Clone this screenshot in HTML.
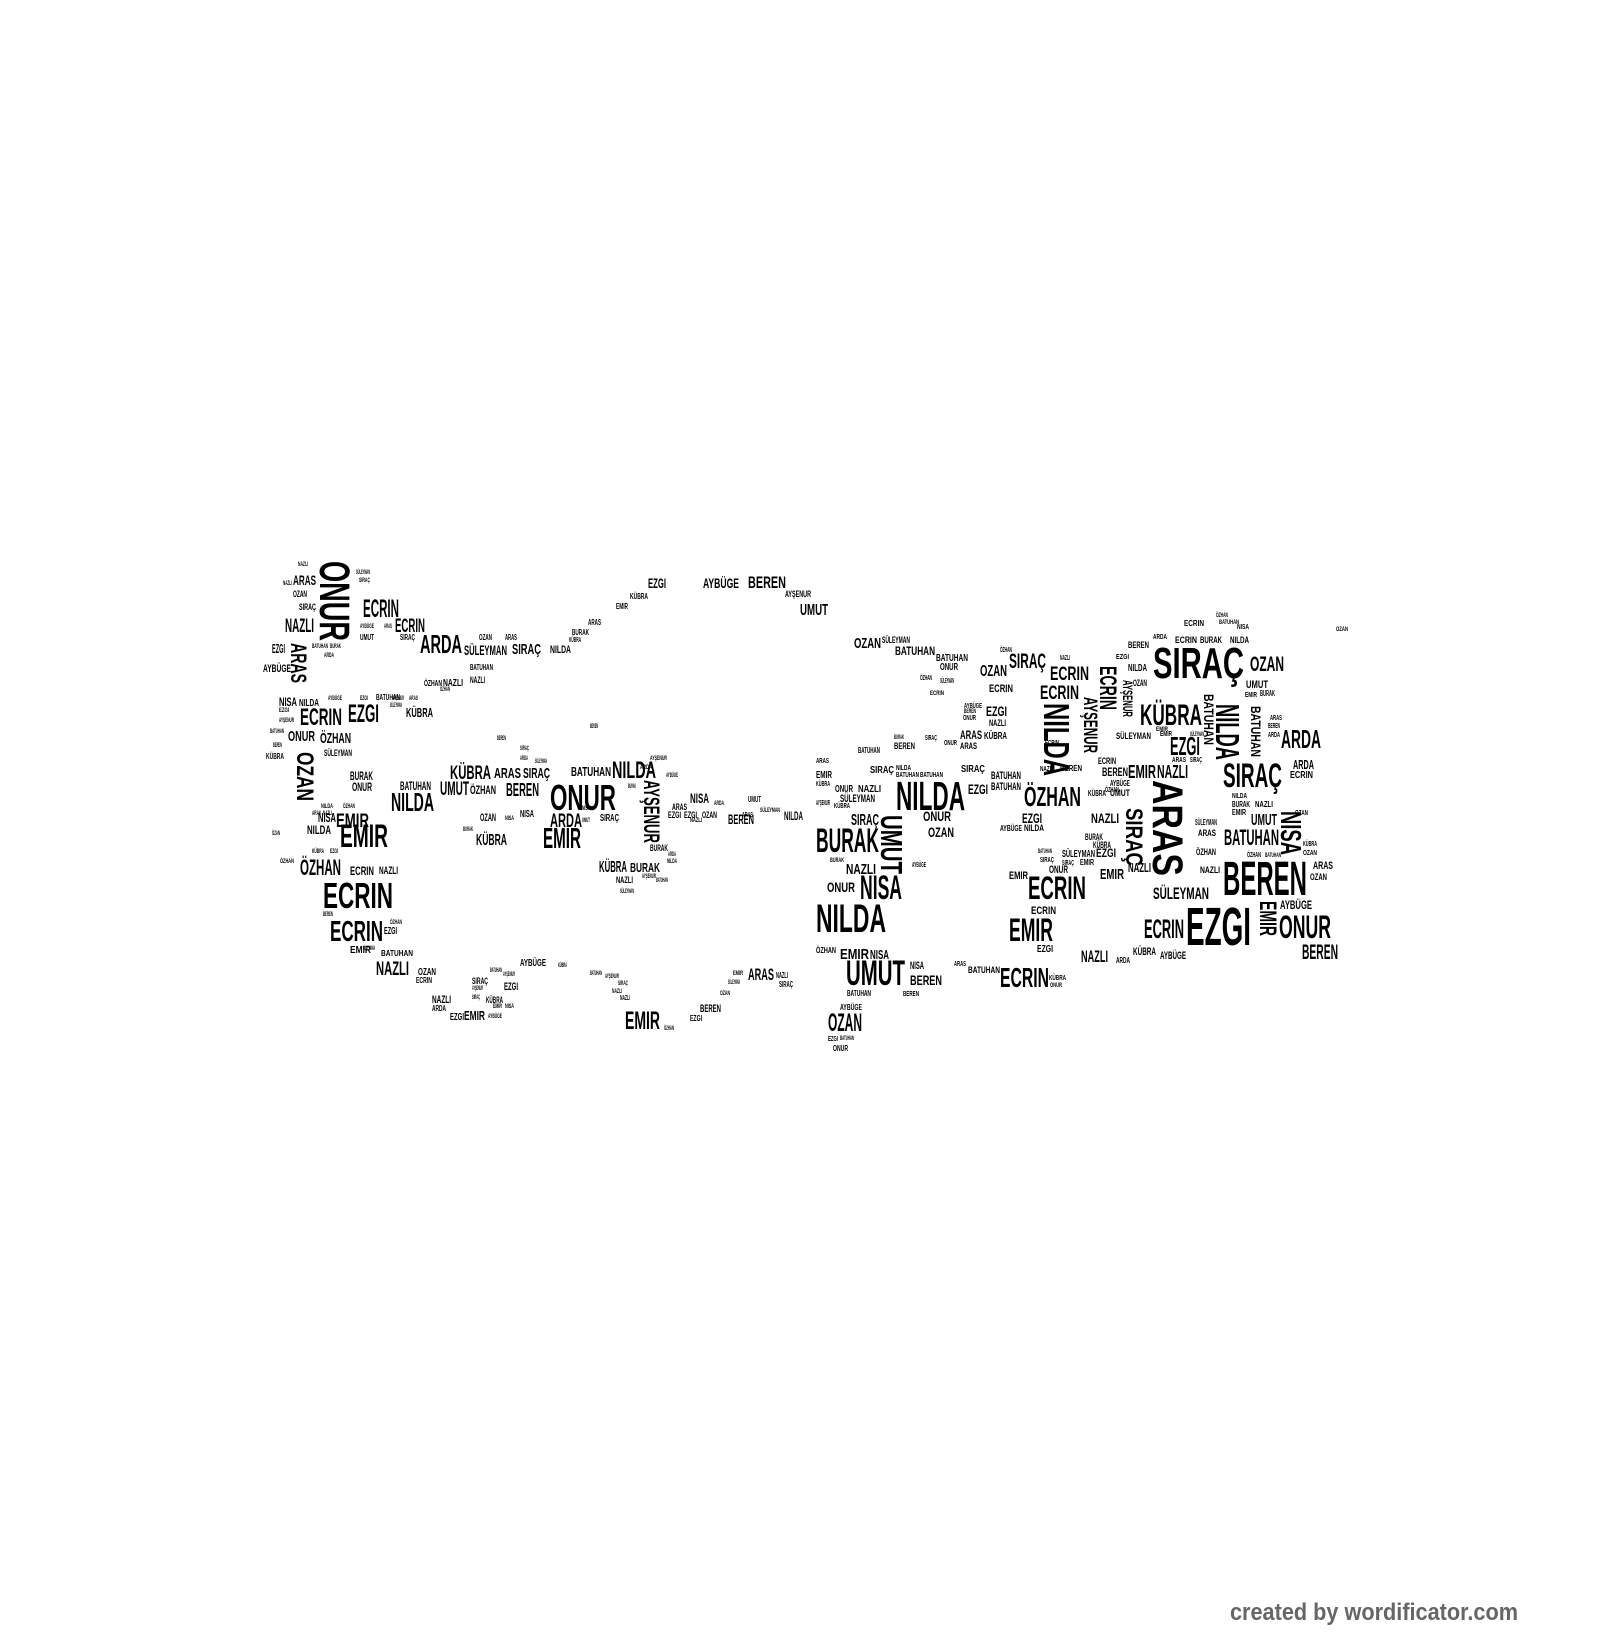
<!DOCTYPE html>
<html><head><meta charset="utf-8"><style>
html,body{margin:0;padding:0;background:#fff;}
svg{display:block;}
text{font-family:"Liberation Sans",sans-serif;fill:#000;font-weight:bold;}
.c{font-family:"Liberation Sans",sans-serif;font-weight:bold;fill:#666;}
</style></head><body>
<svg width="1600" height="1640" viewBox="0 0 1600 1640" xmlns="http://www.w3.org/2000/svg">
<g>
<text x="293" y="585" font-size="14" textLength="23" lengthAdjust="spacingAndGlyphs">ARAS</text>
<text x="293" y="597" font-size="9" textLength="14" lengthAdjust="spacingAndGlyphs">OZAN</text>
<text x="299" y="610" font-size="9" textLength="17" lengthAdjust="spacingAndGlyphs">SIRAÇ</text>
<text x="363" y="617" font-size="25" textLength="36" lengthAdjust="spacingAndGlyphs">ECRIN</text>
<text x="285" y="632" font-size="19" textLength="29" lengthAdjust="spacingAndGlyphs">NAZLI</text>
<text x="395" y="632" font-size="19" textLength="30" lengthAdjust="spacingAndGlyphs">ECRIN</text>
<text x="360" y="640" font-size="8" textLength="14" lengthAdjust="spacingAndGlyphs">UMUT</text>
<text x="400" y="640" font-size="8" textLength="15" lengthAdjust="spacingAndGlyphs">SIRAÇ</text>
<text x="420" y="653" font-size="26" textLength="42" lengthAdjust="spacingAndGlyphs">ARDA</text>
<text x="464" y="655" font-size="14" textLength="43" lengthAdjust="spacingAndGlyphs">SÜLEYMAN</text>
<text x="479" y="640" font-size="8" textLength="13" lengthAdjust="spacingAndGlyphs">OZAN</text>
<text x="505" y="640" font-size="8" textLength="12" lengthAdjust="spacingAndGlyphs">ARAS</text>
<text x="512" y="654" font-size="15" textLength="29" lengthAdjust="spacingAndGlyphs">SIRAÇ</text>
<text x="550" y="653" font-size="11" textLength="21" lengthAdjust="spacingAndGlyphs">NILDA</text>
<text x="272" y="653" font-size="13" textLength="13" lengthAdjust="spacingAndGlyphs">EZGI</text>
<text x="263" y="672" font-size="11" textLength="28" lengthAdjust="spacingAndGlyphs">AYBÜGE</text>
<text x="470" y="670" font-size="8" textLength="23" lengthAdjust="spacingAndGlyphs">BATUHAN</text>
<text x="424" y="686" font-size="8" textLength="18" lengthAdjust="spacingAndGlyphs">ÖZHAN</text>
<text x="443" y="686" font-size="10" textLength="20" lengthAdjust="spacingAndGlyphs">NAZLI</text>
<text x="470" y="683" font-size="9" textLength="15" lengthAdjust="spacingAndGlyphs">NAZLI</text>
<text x="648" y="588" font-size="14" textLength="18" lengthAdjust="spacingAndGlyphs">EZGI</text>
<text x="703" y="588" font-size="14" textLength="36" lengthAdjust="spacingAndGlyphs">AYBÜGE</text>
<text x="748" y="588" font-size="17" textLength="38" lengthAdjust="spacingAndGlyphs">BEREN</text>
<text x="630" y="599" font-size="8" textLength="18" lengthAdjust="spacingAndGlyphs">KÜBRA</text>
<text x="616" y="609" font-size="8" textLength="12" lengthAdjust="spacingAndGlyphs">EMIR</text>
<text x="588" y="625" font-size="8" textLength="13" lengthAdjust="spacingAndGlyphs">ARAS</text>
<text x="572" y="635" font-size="8" textLength="17" lengthAdjust="spacingAndGlyphs">BURAK</text>
<text x="569" y="642" font-size="7" textLength="12" lengthAdjust="spacingAndGlyphs">KÜBRA</text>
<text x="785" y="597" font-size="9" textLength="26" lengthAdjust="spacingAndGlyphs">AYŞENUR</text>
<text x="800" y="615" font-size="16" textLength="28" lengthAdjust="spacingAndGlyphs">UMUT</text>
<text x="279" y="706" font-size="12" textLength="18" lengthAdjust="spacingAndGlyphs">NISA</text>
<text x="299" y="706" font-size="10" textLength="20" lengthAdjust="spacingAndGlyphs">NILDA</text>
<text x="300" y="725" font-size="24" textLength="42" lengthAdjust="spacingAndGlyphs">ECRIN</text>
<text x="348" y="722" font-size="25" textLength="31" lengthAdjust="spacingAndGlyphs">EZGI</text>
<text x="406" y="717" font-size="13" textLength="27" lengthAdjust="spacingAndGlyphs">KÜBRA</text>
<text x="376" y="700" font-size="8" textLength="24" lengthAdjust="spacingAndGlyphs">BATUHAN</text>
<text x="288" y="741" font-size="15" textLength="27" lengthAdjust="spacingAndGlyphs">ONUR</text>
<text x="320" y="743" font-size="15" textLength="31" lengthAdjust="spacingAndGlyphs">ÖZHAN</text>
<text x="324" y="756" font-size="9" textLength="28" lengthAdjust="spacingAndGlyphs">SÜLEYMAN</text>
<text x="266" y="759" font-size="8" textLength="18" lengthAdjust="spacingAndGlyphs">KÜBRA</text>
<text x="350" y="780" font-size="12" textLength="23" lengthAdjust="spacingAndGlyphs">BURAK</text>
<text x="352" y="791" font-size="12" textLength="20" lengthAdjust="spacingAndGlyphs">ONUR</text>
<text x="391" y="811" font-size="26" textLength="43" lengthAdjust="spacingAndGlyphs">NILDA</text>
<text x="400" y="790" font-size="12" textLength="31" lengthAdjust="spacingAndGlyphs">BATUHAN</text>
<text x="450" y="779" font-size="19" textLength="41" lengthAdjust="spacingAndGlyphs">KÜBRA</text>
<text x="494" y="778" font-size="15" textLength="27" lengthAdjust="spacingAndGlyphs">ARAS</text>
<text x="523" y="778" font-size="15" textLength="27" lengthAdjust="spacingAndGlyphs">SIRAÇ</text>
<text x="571" y="776" font-size="13" textLength="40" lengthAdjust="spacingAndGlyphs">BATUHAN</text>
<text x="612" y="778" font-size="24" textLength="44" lengthAdjust="spacingAndGlyphs">NILDA</text>
<text x="440" y="795" font-size="19" textLength="29" lengthAdjust="spacingAndGlyphs">UMUT</text>
<text x="470" y="794" font-size="12" textLength="26" lengthAdjust="spacingAndGlyphs">ÖZHAN</text>
<text x="506" y="796" font-size="18" textLength="33" lengthAdjust="spacingAndGlyphs">BEREN</text>
<text x="550" y="810" font-size="36" textLength="66" lengthAdjust="spacingAndGlyphs">ONUR</text>
<text x="690" y="803" font-size="14" textLength="19" lengthAdjust="spacingAndGlyphs">NISA</text>
<text x="672" y="810" font-size="9" textLength="15" lengthAdjust="spacingAndGlyphs">ARAS</text>
<text x="668" y="818" font-size="9" textLength="13" lengthAdjust="spacingAndGlyphs">EZGI</text>
<text x="684" y="818" font-size="9" textLength="13" lengthAdjust="spacingAndGlyphs">EZGI</text>
<text x="702" y="818" font-size="9" textLength="15" lengthAdjust="spacingAndGlyphs">OZAN</text>
<text x="550" y="827" font-size="19" textLength="32" lengthAdjust="spacingAndGlyphs">ARDA</text>
<text x="600" y="821" font-size="10" textLength="19" lengthAdjust="spacingAndGlyphs">SIRAÇ</text>
<text x="543" y="848" font-size="29" textLength="38" lengthAdjust="spacingAndGlyphs">EMIR</text>
<text x="476" y="845" font-size="16" textLength="31" lengthAdjust="spacingAndGlyphs">KÜBRA</text>
<text x="480" y="821" font-size="11" textLength="16" lengthAdjust="spacingAndGlyphs">OZAN</text>
<text x="520" y="817" font-size="10" textLength="14" lengthAdjust="spacingAndGlyphs">NISA</text>
<text x="336" y="827" font-size="19" textLength="33" lengthAdjust="spacingAndGlyphs">EMIR</text>
<text x="318" y="822" font-size="13" textLength="18" lengthAdjust="spacingAndGlyphs">NISA</text>
<text x="307" y="834" font-size="12" textLength="24" lengthAdjust="spacingAndGlyphs">NILDA</text>
<text x="340" y="847" font-size="32" textLength="48" lengthAdjust="spacingAndGlyphs">EMIR</text>
<text x="300" y="875" font-size="22" textLength="41" lengthAdjust="spacingAndGlyphs">ÖZHAN</text>
<text x="350" y="875" font-size="12" textLength="24" lengthAdjust="spacingAndGlyphs">ECRIN</text>
<text x="379" y="874" font-size="11" textLength="19" lengthAdjust="spacingAndGlyphs">NAZLI</text>
<text x="323" y="908" font-size="36" textLength="70" lengthAdjust="spacingAndGlyphs">ECRIN</text>
<text x="330" y="941" font-size="29" textLength="53" lengthAdjust="spacingAndGlyphs">ECRIN</text>
<text x="384" y="934" font-size="10" textLength="13" lengthAdjust="spacingAndGlyphs">EZGI</text>
<text x="350" y="953" font-size="10" textLength="21" lengthAdjust="spacingAndGlyphs">EMIR</text>
<text x="381" y="956" font-size="8" textLength="32" lengthAdjust="spacingAndGlyphs">BATUHAN</text>
<text x="376" y="975" font-size="19" textLength="33" lengthAdjust="spacingAndGlyphs">NAZLI</text>
<text x="418" y="975" font-size="10" textLength="18" lengthAdjust="spacingAndGlyphs">OZAN</text>
<text x="416" y="983" font-size="8" textLength="16" lengthAdjust="spacingAndGlyphs">ECRIN</text>
<text x="520" y="966" font-size="10" textLength="26" lengthAdjust="spacingAndGlyphs">AYBÜGE</text>
<text x="472" y="984" font-size="9" textLength="16" lengthAdjust="spacingAndGlyphs">SIRAÇ</text>
<text x="504" y="990" font-size="11" textLength="14" lengthAdjust="spacingAndGlyphs">EZGI</text>
<text x="432" y="1003" font-size="11" textLength="19" lengthAdjust="spacingAndGlyphs">NAZLI</text>
<text x="486" y="1003" font-size="9" textLength="17" lengthAdjust="spacingAndGlyphs">KÜBRA</text>
<text x="432" y="1011" font-size="8" textLength="14" lengthAdjust="spacingAndGlyphs">ARDA</text>
<text x="450" y="1020" font-size="10" textLength="14" lengthAdjust="spacingAndGlyphs">EZGI</text>
<text x="464" y="1020" font-size="13" textLength="21" lengthAdjust="spacingAndGlyphs">EMIR</text>
<text x="625" y="1029" font-size="25" textLength="35" lengthAdjust="spacingAndGlyphs">EMIR</text>
<text x="700" y="1012" font-size="11" textLength="21" lengthAdjust="spacingAndGlyphs">BEREN</text>
<text x="690" y="1021" font-size="8" textLength="12" lengthAdjust="spacingAndGlyphs">EZGI</text>
<text x="748" y="980" font-size="17" textLength="26" lengthAdjust="spacingAndGlyphs">ARAS</text>
<text x="776" y="978" font-size="8" textLength="12" lengthAdjust="spacingAndGlyphs">NAZLI</text>
<text x="779" y="987" font-size="8" textLength="14" lengthAdjust="spacingAndGlyphs">SIRAÇ</text>
<text x="599" y="872" font-size="16" textLength="28" lengthAdjust="spacingAndGlyphs">KÜBRA</text>
<text x="630" y="872" font-size="13" textLength="30" lengthAdjust="spacingAndGlyphs">BURAK</text>
<text x="616" y="883" font-size="9" textLength="17" lengthAdjust="spacingAndGlyphs">NAZLI</text>
<text x="650" y="851" font-size="9" textLength="18" lengthAdjust="spacingAndGlyphs">BURAK</text>
<text x="728" y="824" font-size="14" textLength="26" lengthAdjust="spacingAndGlyphs">BEREN</text>
<text x="784" y="820" font-size="12" textLength="19" lengthAdjust="spacingAndGlyphs">NILDA</text>
<text x="748" y="802" font-size="8" textLength="13" lengthAdjust="spacingAndGlyphs">UMUT</text>
<text x="742" y="817" font-size="7" textLength="11" lengthAdjust="spacingAndGlyphs">ARAS</text>
<text x="760" y="812" font-size="6" textLength="20" lengthAdjust="spacingAndGlyphs">SÜLEYMAN</text>
<text x="298" y="566" font-size="6" textLength="10" lengthAdjust="spacingAndGlyphs">NAZLI</text>
<text x="283" y="585" font-size="6" textLength="9" lengthAdjust="spacingAndGlyphs">NAZLI</text>
<text x="356" y="574" font-size="6" textLength="14" lengthAdjust="spacingAndGlyphs">SÜLEYMAN</text>
<text x="359" y="582" font-size="6" textLength="11" lengthAdjust="spacingAndGlyphs">SIRAÇ</text>
<text x="360" y="628" font-size="6" textLength="14" lengthAdjust="spacingAndGlyphs">AYBÜGE</text>
<text x="384" y="628" font-size="6" textLength="8" lengthAdjust="spacingAndGlyphs">ARAS</text>
<text x="312" y="648" font-size="6" textLength="16" lengthAdjust="spacingAndGlyphs">BATUHAN</text>
<text x="330" y="648" font-size="6" textLength="11" lengthAdjust="spacingAndGlyphs">BURAK</text>
<text x="324" y="657" font-size="6" textLength="10" lengthAdjust="spacingAndGlyphs">ARDA</text>
<text x="328" y="700" font-size="6" textLength="14" lengthAdjust="spacingAndGlyphs">AYBÜGE</text>
<text x="360" y="700" font-size="6" textLength="8" lengthAdjust="spacingAndGlyphs">EZGI</text>
<text x="392" y="700" font-size="6" textLength="12" lengthAdjust="spacingAndGlyphs">AYŞENUR</text>
<text x="409" y="700" font-size="6" textLength="9" lengthAdjust="spacingAndGlyphs">ARAS</text>
<text x="390" y="707" font-size="6" textLength="12" lengthAdjust="spacingAndGlyphs">SÜLEYMAN</text>
<text x="440" y="691" font-size="6" textLength="10" lengthAdjust="spacingAndGlyphs">ÖZHAN</text>
<text x="279" y="712" font-size="6" textLength="10" lengthAdjust="spacingAndGlyphs">EZGI</text>
<text x="279" y="722" font-size="6" textLength="15" lengthAdjust="spacingAndGlyphs">AYŞENUR</text>
<text x="270" y="733" font-size="6" textLength="14" lengthAdjust="spacingAndGlyphs">BATUHAN</text>
<text x="273" y="747" font-size="6" textLength="9" lengthAdjust="spacingAndGlyphs">BEREN</text>
<text x="321" y="808" font-size="6" textLength="12" lengthAdjust="spacingAndGlyphs">NILDA</text>
<text x="343" y="808" font-size="6" textLength="12" lengthAdjust="spacingAndGlyphs">ÖZHAN</text>
<text x="312" y="815" font-size="6" textLength="9" lengthAdjust="spacingAndGlyphs">ARAS</text>
<text x="323" y="815" font-size="6" textLength="9" lengthAdjust="spacingAndGlyphs">NAZLI</text>
<text x="272" y="835" font-size="6" textLength="8" lengthAdjust="spacingAndGlyphs">ÖZAN</text>
<text x="312" y="853" font-size="6" textLength="12" lengthAdjust="spacingAndGlyphs">KÜBRA</text>
<text x="330" y="853" font-size="6" textLength="8" lengthAdjust="spacingAndGlyphs">EZGI</text>
<text x="280" y="863" font-size="6" textLength="14" lengthAdjust="spacingAndGlyphs">ÖZHAN</text>
<text x="323" y="916" font-size="6" textLength="10" lengthAdjust="spacingAndGlyphs">BEREN</text>
<text x="390" y="924" font-size="6" textLength="12" lengthAdjust="spacingAndGlyphs">ÖZHAN</text>
<text x="363" y="950" font-size="6" textLength="12" lengthAdjust="spacingAndGlyphs">SÜLEYMAN</text>
<text x="490" y="972" font-size="6" textLength="12" lengthAdjust="spacingAndGlyphs">BATUHAN</text>
<text x="503" y="976" font-size="6" textLength="12" lengthAdjust="spacingAndGlyphs">AYŞENUR</text>
<text x="472" y="990" font-size="6" textLength="11" lengthAdjust="spacingAndGlyphs">AYŞENUR</text>
<text x="472" y="999" font-size="6" textLength="8" lengthAdjust="spacingAndGlyphs">SIRAÇ</text>
<text x="488" y="1018" font-size="6" textLength="14" lengthAdjust="spacingAndGlyphs">AYBÜGE</text>
<text x="505" y="1008" font-size="6" textLength="9" lengthAdjust="spacingAndGlyphs">NISA</text>
<text x="493" y="1008" font-size="6" textLength="9" lengthAdjust="spacingAndGlyphs">EMIR</text>
<text x="590" y="975" font-size="6" textLength="12" lengthAdjust="spacingAndGlyphs">BATUHAN</text>
<text x="605" y="978" font-size="6" textLength="14" lengthAdjust="spacingAndGlyphs">AYŞENUR</text>
<text x="618" y="985" font-size="6" textLength="10" lengthAdjust="spacingAndGlyphs">SIRAÇ</text>
<text x="612" y="993" font-size="6" textLength="10" lengthAdjust="spacingAndGlyphs">NAZLI</text>
<text x="620" y="1000" font-size="7" textLength="10" lengthAdjust="spacingAndGlyphs">NAZLI</text>
<text x="664" y="1030" font-size="6" textLength="10" lengthAdjust="spacingAndGlyphs">ÖZHAN</text>
<text x="558" y="967" font-size="6" textLength="9" lengthAdjust="spacingAndGlyphs">KÜBRA</text>
<text x="733" y="975" font-size="6" textLength="10" lengthAdjust="spacingAndGlyphs">EMIR</text>
<text x="728" y="984" font-size="6" textLength="12" lengthAdjust="spacingAndGlyphs">SÜLEYMAN</text>
<text x="720" y="995" font-size="6" textLength="10" lengthAdjust="spacingAndGlyphs">OZAN</text>
<text x="590" y="728" font-size="6" textLength="8" lengthAdjust="spacingAndGlyphs">BEREN</text>
<text x="497" y="740" font-size="6" textLength="9" lengthAdjust="spacingAndGlyphs">BEREN</text>
<text x="520" y="750" font-size="6" textLength="9" lengthAdjust="spacingAndGlyphs">SIRAÇ</text>
<text x="520" y="760" font-size="6" textLength="8" lengthAdjust="spacingAndGlyphs">ARDA</text>
<text x="535" y="763" font-size="6" textLength="12" lengthAdjust="spacingAndGlyphs">SÜLEYMAN</text>
<text x="640" y="769" font-size="6" textLength="12" lengthAdjust="spacingAndGlyphs">ARDA</text>
<text x="650" y="760" font-size="6" textLength="17" lengthAdjust="spacingAndGlyphs">AYŞENUR</text>
<text x="666" y="777" font-size="6" textLength="12" lengthAdjust="spacingAndGlyphs">AYBÜGE</text>
<text x="628" y="788" font-size="6" textLength="8" lengthAdjust="spacingAndGlyphs">BURAK</text>
<text x="582" y="810" font-size="6" textLength="8" lengthAdjust="spacingAndGlyphs">NISA</text>
<text x="582" y="822" font-size="6" textLength="8" lengthAdjust="spacingAndGlyphs">UMUT</text>
<text x="463" y="831" font-size="6" textLength="10" lengthAdjust="spacingAndGlyphs">BURAK</text>
<text x="505" y="820" font-size="6" textLength="9" lengthAdjust="spacingAndGlyphs">NISA</text>
<text x="642" y="878" font-size="6" textLength="14" lengthAdjust="spacingAndGlyphs">AYŞENUR</text>
<text x="620" y="893" font-size="6" textLength="14" lengthAdjust="spacingAndGlyphs">SÜLEYMAN</text>
<text x="668" y="856" font-size="6" textLength="8" lengthAdjust="spacingAndGlyphs">ARDA</text>
<text x="667" y="863" font-size="6" textLength="10" lengthAdjust="spacingAndGlyphs">NILDA</text>
<text x="656" y="882" font-size="6" textLength="12" lengthAdjust="spacingAndGlyphs">BATUHAN</text>
<text x="690" y="822" font-size="6" textLength="12" lengthAdjust="spacingAndGlyphs">NAZLI</text>
<text x="714" y="805" font-size="6" textLength="10" lengthAdjust="spacingAndGlyphs">ARDA</text>
<text x="854" y="648" font-size="15" textLength="27" lengthAdjust="spacingAndGlyphs">OZAN</text>
<text x="882" y="643" font-size="9" textLength="28" lengthAdjust="spacingAndGlyphs">SÜLEYMAN</text>
<text x="895" y="655" font-size="12" textLength="40" lengthAdjust="spacingAndGlyphs">BATUHAN</text>
<text x="936" y="661" font-size="10" textLength="32" lengthAdjust="spacingAndGlyphs">BATUHAN</text>
<text x="940" y="670" font-size="10" textLength="18" lengthAdjust="spacingAndGlyphs">ONUR</text>
<text x="980" y="676" font-size="16" textLength="27" lengthAdjust="spacingAndGlyphs">OZAN</text>
<text x="1009" y="668" font-size="21" textLength="37" lengthAdjust="spacingAndGlyphs">SIRAÇ</text>
<text x="1050" y="680" font-size="19" textLength="39" lengthAdjust="spacingAndGlyphs">ECRIN</text>
<text x="1040" y="699" font-size="19" textLength="39" lengthAdjust="spacingAndGlyphs">ECRIN</text>
<text x="989" y="692" font-size="11" textLength="24" lengthAdjust="spacingAndGlyphs">ECRIN</text>
<text x="1153" y="678" font-size="44" textLength="91" lengthAdjust="spacingAndGlyphs">SIRAÇ</text>
<text x="1250" y="671" font-size="21" textLength="34" lengthAdjust="spacingAndGlyphs">OZAN</text>
<text x="1246" y="688" font-size="11" textLength="22" lengthAdjust="spacingAndGlyphs">UMUT</text>
<text x="1140" y="725" font-size="30" textLength="62" lengthAdjust="spacingAndGlyphs">KÜBRA</text>
<text x="1170" y="755" font-size="26" textLength="30" lengthAdjust="spacingAndGlyphs">EZGI</text>
<text x="1281" y="748" font-size="26" textLength="40" lengthAdjust="spacingAndGlyphs">ARDA</text>
<text x="1223" y="787" font-size="34" textLength="59" lengthAdjust="spacingAndGlyphs">SIRAÇ</text>
<text x="1293" y="769" font-size="13" textLength="21" lengthAdjust="spacingAndGlyphs">ARDA</text>
<text x="1290" y="778" font-size="10" textLength="23" lengthAdjust="spacingAndGlyphs">ECRIN</text>
<text x="896" y="810" font-size="41" textLength="69" lengthAdjust="spacingAndGlyphs">NILDA</text>
<text x="1024" y="806" font-size="28" textLength="57" lengthAdjust="spacingAndGlyphs">ÖZHAN</text>
<text x="1128" y="778" font-size="18" textLength="28" lengthAdjust="spacingAndGlyphs">EMIR</text>
<text x="1157" y="778" font-size="18" textLength="31" lengthAdjust="spacingAndGlyphs">NAZLI</text>
<text x="1102" y="776" font-size="12" textLength="26" lengthAdjust="spacingAndGlyphs">BEREN</text>
<text x="968" y="794" font-size="14" textLength="20" lengthAdjust="spacingAndGlyphs">EZGI</text>
<text x="991" y="779" font-size="11" textLength="30" lengthAdjust="spacingAndGlyphs">BATUHAN</text>
<text x="991" y="790" font-size="11" textLength="30" lengthAdjust="spacingAndGlyphs">BATUHAN</text>
<text x="1022" y="823" font-size="14" textLength="20" lengthAdjust="spacingAndGlyphs">EZGI</text>
<text x="1091" y="823" font-size="14" textLength="28" lengthAdjust="spacingAndGlyphs">NAZLI</text>
<text x="1251" y="825" font-size="16" textLength="26" lengthAdjust="spacingAndGlyphs">UMUT</text>
<text x="1224" y="845" font-size="22" textLength="55" lengthAdjust="spacingAndGlyphs">BATUHAN</text>
<text x="1223" y="895" font-size="48" textLength="84" lengthAdjust="spacingAndGlyphs">BEREN</text>
<text x="1153" y="899" font-size="17" textLength="56" lengthAdjust="spacingAndGlyphs">SÜLEYMAN</text>
<text x="1186" y="945" font-size="54" textLength="65" lengthAdjust="spacingAndGlyphs">EZGI</text>
<text x="1144" y="938" font-size="27" textLength="40" lengthAdjust="spacingAndGlyphs">ECRIN</text>
<text x="1279" y="938" font-size="32" textLength="52" lengthAdjust="spacingAndGlyphs">ONUR</text>
<text x="1302" y="959" font-size="21" textLength="36" lengthAdjust="spacingAndGlyphs">BEREN</text>
<text x="1280" y="909" font-size="12" textLength="32" lengthAdjust="spacingAndGlyphs">AYBÜGE</text>
<text x="1313" y="869" font-size="11" textLength="20" lengthAdjust="spacingAndGlyphs">ARAS</text>
<text x="1310" y="880" font-size="9" textLength="17" lengthAdjust="spacingAndGlyphs">OZAN</text>
<text x="1303" y="846" font-size="7" textLength="14" lengthAdjust="spacingAndGlyphs">KÜBRA</text>
<text x="1303" y="855" font-size="7" textLength="14" lengthAdjust="spacingAndGlyphs">OZAN</text>
<text x="816" y="852" font-size="34" textLength="63" lengthAdjust="spacingAndGlyphs">BURAK</text>
<text x="923" y="821" font-size="14" textLength="28" lengthAdjust="spacingAndGlyphs">ONUR</text>
<text x="928" y="837" font-size="14" textLength="26" lengthAdjust="spacingAndGlyphs">OZAN</text>
<text x="851" y="825" font-size="16" textLength="28" lengthAdjust="spacingAndGlyphs">SIRAÇ</text>
<text x="846" y="874" font-size="15" textLength="30" lengthAdjust="spacingAndGlyphs">NAZLI</text>
<text x="860" y="899" font-size="34" textLength="42" lengthAdjust="spacingAndGlyphs">NISA</text>
<text x="827" y="892" font-size="14" textLength="28" lengthAdjust="spacingAndGlyphs">ONUR</text>
<text x="816" y="932" font-size="40" textLength="70" lengthAdjust="spacingAndGlyphs">NILDA</text>
<text x="840" y="959" font-size="15" textLength="29" lengthAdjust="spacingAndGlyphs">EMIR</text>
<text x="870" y="959" font-size="13" textLength="19" lengthAdjust="spacingAndGlyphs">NISA</text>
<text x="816" y="953" font-size="8" textLength="20" lengthAdjust="spacingAndGlyphs">ÖZHAN</text>
<text x="846" y="985" font-size="35" textLength="59" lengthAdjust="spacingAndGlyphs">UMUT</text>
<text x="910" y="969" font-size="11" textLength="14" lengthAdjust="spacingAndGlyphs">NISA</text>
<text x="910" y="985" font-size="14" textLength="32" lengthAdjust="spacingAndGlyphs">BEREN</text>
<text x="847" y="996" font-size="8" textLength="24" lengthAdjust="spacingAndGlyphs">BATUHAN</text>
<text x="903" y="996" font-size="7" textLength="16" lengthAdjust="spacingAndGlyphs">BEREN</text>
<text x="840" y="1010" font-size="8" textLength="22" lengthAdjust="spacingAndGlyphs">AYBÜGE</text>
<text x="828" y="1031" font-size="25" textLength="34" lengthAdjust="spacingAndGlyphs">OZAN</text>
<text x="828" y="1041" font-size="7" textLength="10" lengthAdjust="spacingAndGlyphs">EZGI</text>
<text x="840" y="1040" font-size="6" textLength="14" lengthAdjust="spacingAndGlyphs">BATUHAN</text>
<text x="833" y="1051" font-size="8" textLength="15" lengthAdjust="spacingAndGlyphs">ONUR</text>
<text x="1028" y="899" font-size="32" textLength="58" lengthAdjust="spacingAndGlyphs">ECRIN</text>
<text x="1009" y="879" font-size="11" textLength="19" lengthAdjust="spacingAndGlyphs">EMIR</text>
<text x="1049" y="873" font-size="11" textLength="19" lengthAdjust="spacingAndGlyphs">ONUR</text>
<text x="1100" y="879" font-size="15" textLength="24" lengthAdjust="spacingAndGlyphs">EMIR</text>
<text x="1128" y="872" font-size="13" textLength="23" lengthAdjust="spacingAndGlyphs">NAZLI</text>
<text x="1031" y="914" font-size="11" textLength="25" lengthAdjust="spacingAndGlyphs">ECRIN</text>
<text x="1009" y="941" font-size="32" textLength="44" lengthAdjust="spacingAndGlyphs">EMIR</text>
<text x="1037" y="952" font-size="10" textLength="16" lengthAdjust="spacingAndGlyphs">EZGI</text>
<text x="1081" y="962" font-size="17" textLength="27" lengthAdjust="spacingAndGlyphs">NAZLI</text>
<text x="1116" y="963" font-size="8" textLength="14" lengthAdjust="spacingAndGlyphs">ARDA</text>
<text x="1133" y="955" font-size="11" textLength="23" lengthAdjust="spacingAndGlyphs">KÜBRA</text>
<text x="1160" y="959" font-size="11" textLength="26" lengthAdjust="spacingAndGlyphs">AYBÜGE</text>
<text x="1000" y="987" font-size="28" textLength="49" lengthAdjust="spacingAndGlyphs">ECRIN</text>
<text x="968" y="973" font-size="9" textLength="32" lengthAdjust="spacingAndGlyphs">BATUHAN</text>
<text x="954" y="966" font-size="7" textLength="12" lengthAdjust="spacingAndGlyphs">ARAS</text>
<text x="1049" y="980" font-size="7" textLength="17" lengthAdjust="spacingAndGlyphs">KÜBRA</text>
<text x="1050" y="987" font-size="6" textLength="12" lengthAdjust="spacingAndGlyphs">ONUR</text>
<text x="1196" y="855" font-size="9" textLength="20" lengthAdjust="spacingAndGlyphs">ÖZHAN</text>
<text x="1200" y="873" font-size="9" textLength="20" lengthAdjust="spacingAndGlyphs">NAZLI</text>
<text x="1336" y="631" font-size="6" textLength="12" lengthAdjust="spacingAndGlyphs">OZAN</text>
<text x="1184" y="626" font-size="8" textLength="20" lengthAdjust="spacingAndGlyphs">ECRIN</text>
<text x="1216" y="617" font-size="6" textLength="12" lengthAdjust="spacingAndGlyphs">ÖZHAN</text>
<text x="1219" y="624" font-size="6" textLength="20" lengthAdjust="spacingAndGlyphs">BATUHAN</text>
<text x="1237" y="629" font-size="7" textLength="12" lengthAdjust="spacingAndGlyphs">NISA</text>
<text x="1153" y="639" font-size="7" textLength="14" lengthAdjust="spacingAndGlyphs">ARDA</text>
<text x="1175" y="643" font-size="9" textLength="22" lengthAdjust="spacingAndGlyphs">ECRIN</text>
<text x="1200" y="643" font-size="9" textLength="22" lengthAdjust="spacingAndGlyphs">BURAK</text>
<text x="1230" y="643" font-size="9" textLength="19" lengthAdjust="spacingAndGlyphs">NILDA</text>
<text x="1128" y="648" font-size="9" textLength="21" lengthAdjust="spacingAndGlyphs">BEREN</text>
<text x="1128" y="671" font-size="10" textLength="19" lengthAdjust="spacingAndGlyphs">NILDA</text>
<text x="1133" y="686" font-size="9" textLength="14" lengthAdjust="spacingAndGlyphs">OZAN</text>
<text x="1116" y="659" font-size="7" textLength="13" lengthAdjust="spacingAndGlyphs">EZGI</text>
<text x="960" y="739" font-size="12" textLength="22" lengthAdjust="spacingAndGlyphs">ARAS</text>
<text x="984" y="739" font-size="10" textLength="23" lengthAdjust="spacingAndGlyphs">KÜBRA</text>
<text x="925" y="740" font-size="7" textLength="12" lengthAdjust="spacingAndGlyphs">SIRAÇ</text>
<text x="944" y="745" font-size="7" textLength="13" lengthAdjust="spacingAndGlyphs">ONUR</text>
<text x="960" y="749" font-size="9" textLength="17" lengthAdjust="spacingAndGlyphs">ARAS</text>
<text x="894" y="749" font-size="9" textLength="21" lengthAdjust="spacingAndGlyphs">BEREN</text>
<text x="986" y="716" font-size="14" textLength="21" lengthAdjust="spacingAndGlyphs">EZGI</text>
<text x="989" y="726" font-size="9" textLength="17" lengthAdjust="spacingAndGlyphs">NAZLI</text>
<text x="964" y="708" font-size="7" textLength="18" lengthAdjust="spacingAndGlyphs">AYBÜGE</text>
<text x="964" y="713" font-size="6" textLength="12" lengthAdjust="spacingAndGlyphs">BEREN</text>
<text x="963" y="720" font-size="7" textLength="13" lengthAdjust="spacingAndGlyphs">ONUR</text>
<text x="1116" y="739" font-size="9" textLength="35" lengthAdjust="spacingAndGlyphs">SÜLEYMAN</text>
<text x="1160" y="736" font-size="7" textLength="12" lengthAdjust="spacingAndGlyphs">EMIR</text>
<text x="1190" y="736" font-size="6" textLength="14" lengthAdjust="spacingAndGlyphs">SÜLEYMAN</text>
<text x="840" y="802" font-size="11" textLength="35" lengthAdjust="spacingAndGlyphs">SÜLEYMAN</text>
<text x="835" y="792" font-size="10" textLength="18" lengthAdjust="spacingAndGlyphs">ONUR</text>
<text x="858" y="792" font-size="10" textLength="23" lengthAdjust="spacingAndGlyphs">NAZLI</text>
<text x="816" y="778" font-size="10" textLength="16" lengthAdjust="spacingAndGlyphs">EMIR</text>
<text x="816" y="763" font-size="7" textLength="13" lengthAdjust="spacingAndGlyphs">ARAS</text>
<text x="870" y="773" font-size="10" textLength="24" lengthAdjust="spacingAndGlyphs">SIRAÇ</text>
<text x="896" y="770" font-size="7" textLength="15" lengthAdjust="spacingAndGlyphs">NILDA</text>
<text x="896" y="777" font-size="7" textLength="23" lengthAdjust="spacingAndGlyphs">BATUHAN</text>
<text x="920" y="777" font-size="7" textLength="23" lengthAdjust="spacingAndGlyphs">BATUHAN</text>
<text x="961" y="772" font-size="10" textLength="24" lengthAdjust="spacingAndGlyphs">SIRAÇ</text>
<text x="858" y="753" font-size="8" textLength="22" lengthAdjust="spacingAndGlyphs">BATUHAN</text>
<text x="894" y="739" font-size="6" textLength="10" lengthAdjust="spacingAndGlyphs">BURAK</text>
<text x="816" y="786" font-size="7" textLength="14" lengthAdjust="spacingAndGlyphs">KÜBRA</text>
<text x="816" y="805" font-size="7" textLength="14" lengthAdjust="spacingAndGlyphs">AYŞENUR</text>
<text x="834" y="808" font-size="7" textLength="16" lengthAdjust="spacingAndGlyphs">KÜBRA</text>
<text x="830" y="862" font-size="6" textLength="14" lengthAdjust="spacingAndGlyphs">BURAK</text>
<text x="912" y="867" font-size="7" textLength="14" lengthAdjust="spacingAndGlyphs">AYBÜGE</text>
<text x="1000" y="831" font-size="8" textLength="22" lengthAdjust="spacingAndGlyphs">AYBÜGE</text>
<text x="1024" y="831" font-size="9" textLength="20" lengthAdjust="spacingAndGlyphs">NILDA</text>
<text x="1088" y="796" font-size="8" textLength="18" lengthAdjust="spacingAndGlyphs">KÜBRA</text>
<text x="1110" y="796" font-size="9" textLength="20" lengthAdjust="spacingAndGlyphs">UMUT</text>
<text x="1110" y="786" font-size="8" textLength="20" lengthAdjust="spacingAndGlyphs">AYBÜGE</text>
<text x="1085" y="840" font-size="9" textLength="18" lengthAdjust="spacingAndGlyphs">BURAK</text>
<text x="1093" y="848" font-size="9" textLength="18" lengthAdjust="spacingAndGlyphs">KÜBRA</text>
<text x="1062" y="857" font-size="10" textLength="33" lengthAdjust="spacingAndGlyphs">SÜLEYMAN</text>
<text x="1096" y="857" font-size="12" textLength="20" lengthAdjust="spacingAndGlyphs">EZGI</text>
<text x="1040" y="862" font-size="7" textLength="14" lengthAdjust="spacingAndGlyphs">SIRAÇ</text>
<text x="1062" y="865" font-size="7" textLength="12" lengthAdjust="spacingAndGlyphs">SIRAÇ</text>
<text x="1080" y="865" font-size="8" textLength="14" lengthAdjust="spacingAndGlyphs">EMIR</text>
<text x="1038" y="853" font-size="6" textLength="14" lengthAdjust="spacingAndGlyphs">BATUHAN</text>
<text x="1195" y="825" font-size="8" textLength="22" lengthAdjust="spacingAndGlyphs">SÜLEYMAN</text>
<text x="1198" y="836" font-size="9" textLength="18" lengthAdjust="spacingAndGlyphs">ARAS</text>
<text x="1232" y="807" font-size="8" textLength="18" lengthAdjust="spacingAndGlyphs">BURAK</text>
<text x="1255" y="807" font-size="8" textLength="18" lengthAdjust="spacingAndGlyphs">NAZLI</text>
<text x="1232" y="798" font-size="7" textLength="15" lengthAdjust="spacingAndGlyphs">NILDA</text>
<text x="1232" y="815" font-size="8" textLength="14" lengthAdjust="spacingAndGlyphs">EMIR</text>
<text x="1295" y="815" font-size="7" textLength="13" lengthAdjust="spacingAndGlyphs">OZAN</text>
<text x="1247" y="857" font-size="7" textLength="14" lengthAdjust="spacingAndGlyphs">ÖZHAN</text>
<text x="1265" y="857" font-size="6" textLength="16" lengthAdjust="spacingAndGlyphs">BATUHAN</text>
<text x="1245" y="697" font-size="7" textLength="12" lengthAdjust="spacingAndGlyphs">EMIR</text>
<text x="1260" y="696" font-size="8" textLength="15" lengthAdjust="spacingAndGlyphs">BURAK</text>
<text x="1268" y="728" font-size="7" textLength="12" lengthAdjust="spacingAndGlyphs">BEREN</text>
<text x="1268" y="737" font-size="7" textLength="12" lengthAdjust="spacingAndGlyphs">ARDA</text>
<text x="1270" y="720" font-size="7" textLength="12" lengthAdjust="spacingAndGlyphs">ARAS</text>
<text x="920" y="680" font-size="7" textLength="12" lengthAdjust="spacingAndGlyphs">ÖZHAN</text>
<text x="940" y="683" font-size="7" textLength="14" lengthAdjust="spacingAndGlyphs">SÜLEYMAN</text>
<text x="930" y="695" font-size="6" textLength="14" lengthAdjust="spacingAndGlyphs">ECRIN</text>
<text x="1000" y="652" font-size="7" textLength="12" lengthAdjust="spacingAndGlyphs">ÖZHAN</text>
<text x="1060" y="660" font-size="7" textLength="10" lengthAdjust="spacingAndGlyphs">NAZLI</text>
<text x="1156" y="731" font-size="6" textLength="12" lengthAdjust="spacingAndGlyphs">EMIR</text>
<text x="1172" y="762" font-size="7" textLength="14" lengthAdjust="spacingAndGlyphs">ARAS</text>
<text x="1190" y="762" font-size="7" textLength="12" lengthAdjust="spacingAndGlyphs">SIRAÇ</text>
<text x="1040" y="771" font-size="7" textLength="14" lengthAdjust="spacingAndGlyphs">NAZLI</text>
<text x="1060" y="771" font-size="8" textLength="22" lengthAdjust="spacingAndGlyphs">BEREN</text>
<text x="1045" y="745" font-size="7" textLength="14" lengthAdjust="spacingAndGlyphs">ECRIN</text>
<text x="1098" y="764" font-size="9" textLength="18" lengthAdjust="spacingAndGlyphs">ECRIN</text>
<text x="1105" y="792" font-size="7" textLength="14" lengthAdjust="spacingAndGlyphs">ÖZHAN</text>
<text transform="translate(320,561) rotate(90)" font-size="43" textLength="80" lengthAdjust="spacingAndGlyphs">ONUR</text>
<text transform="translate(291,643) rotate(90)" font-size="22" textLength="40" lengthAdjust="spacingAndGlyphs">ARAS</text>
<text transform="translate(297,752) rotate(90)" font-size="24" textLength="49" lengthAdjust="spacingAndGlyphs">OZAN</text>
<text transform="translate(644,780) rotate(90)" font-size="22" textLength="63" lengthAdjust="spacingAndGlyphs">AYŞENUR</text>
<text transform="translate(1100,666) rotate(90)" font-size="24" textLength="44" lengthAdjust="spacingAndGlyphs">ECRIN</text>
<text transform="translate(1044,703) rotate(90)" font-size="36" textLength="73" lengthAdjust="spacingAndGlyphs">NILDA</text>
<text transform="translate(1084,697) rotate(90)" font-size="19" textLength="56" lengthAdjust="spacingAndGlyphs">AYŞENUR</text>
<text transform="translate(1123,680) rotate(90)" font-size="14" textLength="37" lengthAdjust="spacingAndGlyphs">AYŞENUR</text>
<text transform="translate(1216,704) rotate(90)" font-size="33" textLength="56" lengthAdjust="spacingAndGlyphs">NILDA</text>
<text transform="translate(1204,694) rotate(90)" font-size="14" textLength="51" lengthAdjust="spacingAndGlyphs">BATUHAN</text>
<text transform="translate(1251,706) rotate(90)" font-size="14" textLength="51" lengthAdjust="spacingAndGlyphs">BATUHAN</text>
<text transform="translate(1153,780) rotate(90)" font-size="43" textLength="96" lengthAdjust="spacingAndGlyphs">ARAS</text>
<text transform="translate(1126,808) rotate(90)" font-size="24" textLength="58" lengthAdjust="spacingAndGlyphs">SIRAÇ</text>
<text transform="translate(1281,811) rotate(90)" font-size="29" textLength="44" lengthAdjust="spacingAndGlyphs">NISA</text>
<text transform="translate(881,815) rotate(90)" font-size="31" textLength="59" lengthAdjust="spacingAndGlyphs">UMUT</text>
<text transform="translate(1260,901) rotate(90)" font-size="24" textLength="35" lengthAdjust="spacingAndGlyphs">EMIR</text>
</g>
<text class="c" x="1230" y="1620" font-size="24" textLength="288" lengthAdjust="spacingAndGlyphs">created by wordificator.com</text>
</svg>
</body></html>
